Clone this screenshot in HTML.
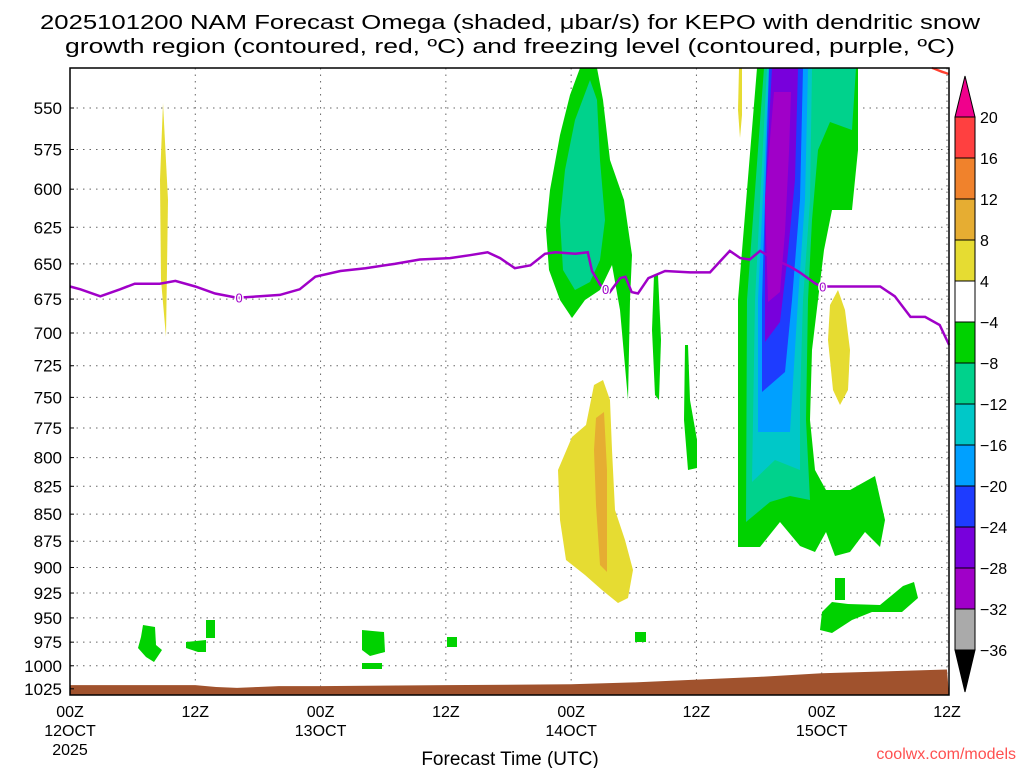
<!DOCTYPE html>
<html><head><meta charset="utf-8"><style>
body{margin:0;background:#fff;width:1024px;height:768px;overflow:hidden}
svg text{font-family:"Liberation Sans","DejaVu Sans",sans-serif;fill:#000}
</style></head><body>
<svg id="chart" width="1024" height="768" viewBox="0 0 1024 768" xmlns="http://www.w3.org/2000/svg">
<rect width="1024" height="768" fill="#fff"/>
<text x="510" y="29" font-size="20" text-anchor="middle" textLength="940" lengthAdjust="spacingAndGlyphs">2025101200 NAM Forecast Omega (shaded, μbar/s) for KEPO with dendritic snow</text>
<text x="510" y="53" font-size="20" text-anchor="middle" textLength="890" lengthAdjust="spacingAndGlyphs">growth region (contoured, red, ºC) and freezing level (contoured, purple, ºC)</text>
<g id="grid"></g>
<g id="fills">
<polygon fill="#e6dc32" points="163,103 168,200 166,337 161,280 160,180"/>
<polygon fill="#e6dc32" points="739,68 742,68 742,115 740,138 738,110"/>
<polygon fill="#e6dc32" points="838,290 845,310 850,350 848,390 840,405 833,390 828,340 830,305"/>
<polygon fill="#e6dc32" points="572,437 586,425 594,385 603,380 610,400 612,450 615,510 625,540 633,570 628,598 618,603 602,590 585,575 566,560 560,520 558,470"/>
<polygon fill="#e6ad32" points="596,418 604,412 607,470 607,572 600,565 596,505 594,450"/>
<polygon fill="#00d200" points="580,68 597,68 603,100 610,160 624,200 632,255 630,300 628,400 620,310 612,265 600,290 585,300 572,318 560,300 549,270 546,230 550,190 560,135 570,95"/>
<polygon fill="#00d28c" points="590,80 597,100 600,160 605,220 600,260 590,282 575,290 563,270 560,220 565,170 575,120"/>
<polygon fill="#00d200" points="654,275 658,275 661,340 659,400 655,395 652,330"/>
<polygon fill="#00d200" points="685,345 688,345 690,400 697,440 697,468 688,470 684,420"/>
<polygon fill="#00d200" points="757,68 858,68 858,150 852,210 832,210 824,250 818,300 812,350 810,420 815,470 826,490 850,490 875,476 885,520 880,547 865,532 850,552 835,556 826,532 815,552 800,546 780,522 760,547 738,547 738,300"/>
<polygon fill="#00d28c" points="764,68 856,68 852,130 830,122 818,150 812,220 808,300 806,420 810,500 790,496 770,502 746,522 747,300"/>
<polygon fill="#00c8c8" points="767,68 812,68 810,200 803,300 800,400 800,470 775,460 752,482 755,300"/>
<polygon fill="#00a0ff" points="769,68 808,68 805,200 798,300 790,432 758,432 758,300"/>
<polygon fill="#1e3cff" points="769,68 803,68 800,200 792,300 785,372 762,392 762,300"/>
<polygon fill="#7800dc" points="772,68 798,68 795,180 787,262 780,322 765,342 765,200"/>
<polygon fill="#a000c8" points="774,92 791,92 789,152 785,232 780,292 768,302 765,200"/>
<polygon fill="#00d200" points="822,612 832,602 848,604 880,605 903,586 914,582 918,598 902,612 872,612 852,620 832,633 820,630"/>
<polygon fill="#00d200" points="835,578 845,578 845,600 835,600"/>
<polygon fill="#00d200" points="143,625 155,627 156,645 162,650 154,662 146,657 138,648 141,637"/>
<polygon fill="#00d200" points="186,642 206,640 206,652 198,652 186,648"/>
<polygon fill="#00d200" points="206,620 215,620 215,638 206,638"/>
<polygon fill="#00d200" points="362,630 384,632 385,652 370,656 362,650"/>
<polygon fill="#00d200" points="362,663 382,663 382,669 362,669"/>
<polygon fill="#00d200" points="447,637 457,637 457,647 447,647"/>
<polygon fill="#00d200" points="635,632 646,632 646,642 635,642"/>
<polygon fill="none" stroke="#ff4030" stroke-width="2" points="932,68 942,72 949,74"/>
</g>
<path id="ground" fill="#a0522d" d=""/>
<path id="frzline" fill="none" stroke="#a000c8" stroke-width="2.5" d=""/>
<g id="frzlabels"></g>
<rect x="70" y="68" width="879" height="627" fill="none" stroke="#000" stroke-width="1.5"/>
<g id="yaxis"></g>
<g id="xaxis"></g>
<text x="510" y="765" font-size="19" text-anchor="middle">Forecast Time (UTC)</text>
<text x="1016" y="759" font-size="16" text-anchor="end" style="fill:#ff5050">coolwx.com/models</text>
<g id="cbar"></g>
</svg>
<script>
const pressureTicks=[550,575,600,625,650,675,700,725,750,775,800,825,850,875,900,925,950,975,1000,1025];
const timeTickHours=[0,12,24,36,48,60,72,84];
const timeTickLabels=[["00Z","12OCT","2025"],["12Z"],["00Z","13OCT"],["12Z"],["00Z","14OCT"],["12Z"],["00Z","15OCT"],["12Z"]];
const frzHours=[0,1,2.9,4.8,6.2,8.6,10.1,12,13.9,16,18.2,20.1,22,23.5,25.9,28.3,31.1,33.5,36.4,38.3,40,41.2,42.6,44.1,45.5,46.5,48.4,49.6,50,50.8,51.7,52.7,53.2,53.8,54.4,55.4,57,59.4,61.3,62.3,63.2,64.2,65.1,66.1,67.5,69,69.9,71.4,72,74.7,77.6,79,80.5,81.9,83.3,84.2];
const frzPressure=[666,668,673,668,664,664,662,666,671,674,673,672,668,659,655,653,650,647,646,644,642,646,653,651,643,642,643,642,655,665,670,660,659,670,671,660,655,656,656,648,641,646,647,641,647,652,656,664,666,666,666,673,688,688,694,709];
const frzLabelHours=[16.2,51.3,72.1];
const groundHours=[0,12,14,16,18,20,24,36,48,54,60,66,72,84];
const groundPressure=[1021,1021,1023,1024,1023,1022,1022,1021,1020,1018,1015,1012,1008,1004];
const cbarLevels=["20","16","12","8","4","−4","−8","−12","−16","−20","−24","−28","−32","−36"];
const cbarColors=["#ff4040","#f0822c","#e6ad32","#e6dc32","#ffffff","#00d200","#00d28c","#00c8c8","#00a0ff","#1e3cff","#7800dc","#a000c8","#aaaaaa"];

const NS="http://www.w3.org/2000/svg";
const X0=70,X1=947,Y550=108,PXLN=933;
function xs(h){return X0+(X1-X0)*h/84;}
function ys(p){return Y550+PXLN*Math.log(p/550);}
function mk(tag,attrs,parent){const e=document.createElementNS(NS,tag);for(const k in attrs)e.setAttribute(k,attrs[k]);parent.appendChild(e);return e;}

const grid=document.getElementById('grid');
pressureTicks.forEach(p=>{
  const l=mk('line',{x1:70,x2:949,y1:ys(p),y2:ys(p),stroke:'#666','stroke-width':1,'stroke-dasharray':'1.5,5'},grid);
  
  
});
timeTickHours.forEach(h=>{
  const l=mk('line',{x1:xs(h),x2:xs(h),y1:68,y2:695,stroke:'#666','stroke-width':1,'stroke-dasharray':'1.5,5'},grid);
  
  
});

let gd='M'+xs(groundHours[0])+','+ys(groundPressure[0]);
for(let i=1;i<groundHours.length;i++)gd+=' L'+xs(groundHours[i])+','+ys(groundPressure[i]);
gd+=' L949,695 L70,695 Z';
document.getElementById('ground').setAttribute('d',gd);

let fd='';
frzHours.forEach((h,i)=>{fd+=(i?' L':'M')+xs(h).toFixed(1)+','+ys(frzPressure[i]).toFixed(1);});
document.getElementById('frzline').setAttribute('d',fd);
const fl=document.getElementById('frzlabels');
frzLabelHours.forEach(h=>{
  let i=0;while(i<frzHours.length-2&&frzHours[i+1]<h)i++;
  const t=(h-frzHours[i])/(frzHours[i+1]-frzHours[i]);
  const p=frzPressure[i]+t*(frzPressure[i+1]-frzPressure[i]);
  const tx=mk('text',{x:xs(h),y:ys(p)+5,'font-size':13,'text-anchor':'middle',style:'fill:#a000c8;paint-order:stroke;stroke:#fff;stroke-width:3'},fl);
  
  
  tx.textContent='0';
});

const ya=document.getElementById('yaxis');
pressureTicks.forEach(p=>{
  const t=mk('text',{x:62,y:ys(p)+6,'font-size':17,'text-anchor':'end'},ya);
  
  
  t.textContent=p;
  const tk=mk('line',{x1:70,x2:74,y1:ys(p),y2:ys(p),stroke:'#000'},ya);
  
  
});
const xa=document.getElementById('xaxis');
timeTickHours.forEach((h,i)=>{
  timeTickLabels[i].forEach((s,j)=>{
    const t=mk('text',{x:xs(h),y:717+j*19,'font-size':16,'text-anchor':'middle'},xa);
    
    
    t.textContent=s;
  });
});
const cb=document.getElementById('cbar');
const CBX=955,CBW=20,CBT=117,CBH=41;
const up=mk('polygon',{points:`${CBX},${CBT} ${CBX+CBW/2},76 ${CBX+CBW},${CBT}`,fill:'#f0008c',stroke:'#000'},cb);


cbarColors.forEach((c,i)=>{
  const r=mk('rect',{x:CBX,y:CBT+i*CBH,width:CBW,height:CBH,fill:c,stroke:'#000'},cb);
  
  
});
const bot=CBT+cbarColors.length*CBH;
const dn=mk('polygon',{points:`${CBX},${bot} ${CBX+CBW/2},692 ${CBX+CBW},${bot}`,fill:'#000',stroke:'#000'},cb);


cbarLevels.forEach((s,i)=>{
  const t=mk('text',{x:980,y:CBT+i*CBH+6,'font-size':16},cb);
  
  
  t.textContent=s;
});
</script>
</body></html>
